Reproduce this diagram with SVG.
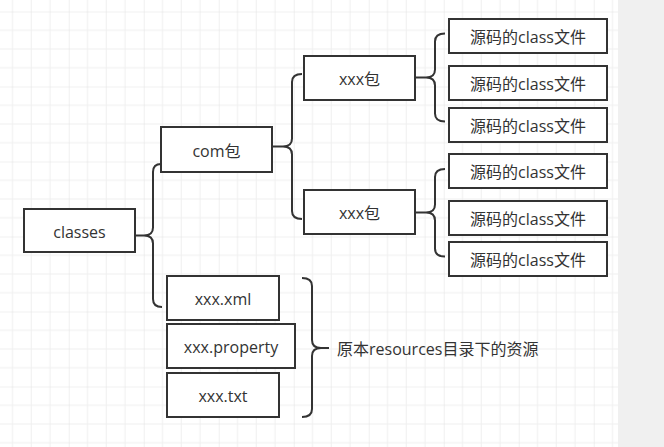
<svg xmlns="http://www.w3.org/2000/svg" width="664" height="447" viewBox="0 0 664 447">
<defs>
<pattern id="grid" patternUnits="userSpaceOnUse" x="-6.25" y="11.5" width="75" height="75">
<path d="M18.75 0V75M37.5 0V75M56.25 0V75M0 18.75H75M0 37.5H75M0 56.25H75" stroke="#efefef" stroke-width="1" fill="none"/>
<path d="M0 0V75M0 0H75" stroke="#e2e2e2" stroke-width="1" fill="none"/>
</pattern>
</defs>
<style>
.box{fill:#fff;stroke:#333;stroke-width:2}
.t{font-family:"Open Sans","Noto Sans CJK SC",sans-serif;font-size:16px;fill:#333;text-anchor:middle;dominant-baseline:central}
.br{fill:none;stroke:#333;stroke-width:2}
</style>
<rect x="0" y="0" width="664" height="447" fill="#fff"/>
<rect x="0" y="0" width="618" height="447" fill="url(#grid)"/>
<rect x="618" y="0" width="46" height="447" fill="#f0f0f0"/>
<g id="connectors">
<path class="br" d="M161,164 Q153,164 153,172 L153,227.5 Q153,235.5 144,235.5 L135,235.5 L144,235.5 Q153,235.5 153,243.5 L153,299 Q153,307 162,307"/>
<path class="br" d="M302,74 Q292,74 292,82 L292,138.5 Q292,146.5 283,146.5 L272,146.5 L283,146.5 Q292,146.5 292,154.5 L292,211 Q292,219 302,219"/>
<path class="br" d="M445,33.5 Q435,33.5 435,41.5 L435,69.5 Q435,77.5 426,77.5 L415,77.5 L426,77.5 Q435,77.5 435,85.5 L435,113.5 Q435,121.5 445,121.5"/>
<path class="br" d="M445,169 Q435,169 435,177 L435,204.5 Q435,212.5 426,212.5 L415,212.5 L426,212.5 Q435,212.5 435,220.5 L435,248.5 Q435,256.5 445,256.5"/>
<path class="br" d="M302,278 Q312,278 312,286 L312,340 Q312,348 321,348 L329,348 L321,348 Q312,348 312,356 L312,409 Q312,417 302,417"/>
</g>
<g id="classes"><rect class="box" x="24" y="209" width="111" height="43"/><text class="t" x="79.5" y="231.5">classes</text></g>
<g id="com"><rect class="box" x="161" y="127" width="111" height="45"/><text class="t" x="216.5" y="150.5">com包</text></g>
<g id="pkg1"><rect class="box" x="304" y="56" width="111" height="44"/><text class="t" x="359.5" y="79">xxx包</text></g>
<g id="pkg2"><rect class="box" x="304" y="190" width="111" height="44"/><text class="t" x="359.5" y="213">xxx包</text></g>
<g id="f1"><rect class="box" x="449" y="19" width="158" height="34"/><text class="t" x="528" y="37">源码的class文件</text></g>
<g id="f2"><rect class="box" x="449" y="66" width="158" height="34"/><text class="t" x="528" y="84">源码的class文件</text></g>
<g id="f3"><rect class="box" x="449" y="108" width="158" height="34"/><text class="t" x="528" y="126">源码的class文件</text></g>
<g id="f4"><rect class="box" x="449" y="154" width="158" height="34"/><text class="t" x="528" y="172">源码的class文件</text></g>
<g id="f5"><rect class="box" x="449" y="201" width="158" height="34"/><text class="t" x="528" y="219">源码的class文件</text></g>
<g id="f6"><rect class="box" x="449" y="242" width="158" height="34"/><text class="t" x="528" y="260">源码的class文件</text></g>
<g id="xml"><rect class="box" x="167" y="276" width="112" height="44"/><text class="t" x="223" y="299">xxx.xml</text></g>
<g id="property"><rect class="box" x="167" y="324" width="128" height="44"/><text class="t" x="231" y="347">xxx.property</text></g>
<g id="txt"><rect class="box" x="167" y="373" width="112" height="44"/><text class="t" x="223" y="396">xxx.txt</text></g>
<g id="label"><text class="t" x="337" y="349" style="text-anchor:start">原本resources目录下的资源</text></g>
</svg>
